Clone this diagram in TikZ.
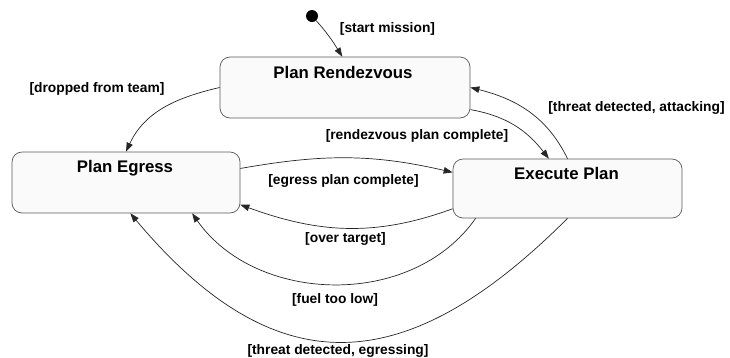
\documentclass[tikz,border=0pt]{standalone}
\usepackage{fontspec}
\setmainfont{Liberation Sans}
\usetikzlibrary{arrows.meta,calc}

\begin{document}
\begin{tikzpicture}[x=1pt,y=1pt,
  state/.style={draw=black!65, line width=0.7pt, rounded corners=10pt, fill=black!2},
  title/.style={font=\fontsize{16.8}{18}\selectfont\bfseries, inner sep=0pt},
  guard/.style={font=\fontsize{13.8}{15}\selectfont\bfseries, inner sep=0pt},
  trans/.style={draw=black!85, line width=0.7pt, -{Triangle[length=9pt,width=6.5pt]}}
]
\useasboundingbox (0,0) rectangle (730,-357);

% states
\node[state, minimum width=250pt, minimum height=61pt] (pr) at (345,-87.5) {};
\node[state, minimum width=228pt, minimum height=61pt] (pe) at (126,-182.5) {};
\node[state, minimum width=229pt, minimum height=59pt] (ep) at (567.5,-188.5) {};

\node[title] (prT) at (343,-72) {Plan Rendezvous};
\node[title] (peT) at (125,-168) {Plan Egress};
\node[title] (epT) at (566.5,-173.5) {Execute Plan};

% initial pseudo-state
\node[circle, fill=black, inner sep=0pt, minimum size=12pt] (start) at (312,-16) {};

% transitions
\draw[trans] (start) to[out=-48, in=122] (pr.95);
\draw[trans] (pr.west) to[out=193, in=65] (pe.north);
\draw[trans] (pr.-10) to[out=-10, in=128] (ep.122.6);
\draw[trans] (ep.north) to[out=116, in=-14] (pr.east);
\draw[trans] (pe.7) to[out=10, in=167] (ep.172);
\draw[trans] (ep.190) to[out=200, in=-20] (pe.-11);
\draw[trans] (ep.198.2) to[out=235, in=-55] (pe.-25.5);
\draw[trans] (ep.south) to[out=225, in=-50, looseness=1.33] (pe.-82.5);

% guard labels
\node[guard] (gStart) at (387.5,-28.5) {[start mission]};
\node[guard] (gDrop) at (97,-89) {[dropped from team]};
\node[guard] (gRdv) at (417,-136) {[rendezvous plan complete]};
\node[guard] (gAtk) at (636.5,-108) {[threat detected, attacking]};
\node[guard] (gEgr) at (343.5,-181) {[egress plan complete]};
\node[guard] (gOver) at (345.5,-238.5) {[over target]};
\node[guard] (gFuel) at (335,-300) {[fuel too low]};
\node[guard] (gThr) at (338,-351) {[threat detected, egressing]};
\end{tikzpicture}
\end{document}
